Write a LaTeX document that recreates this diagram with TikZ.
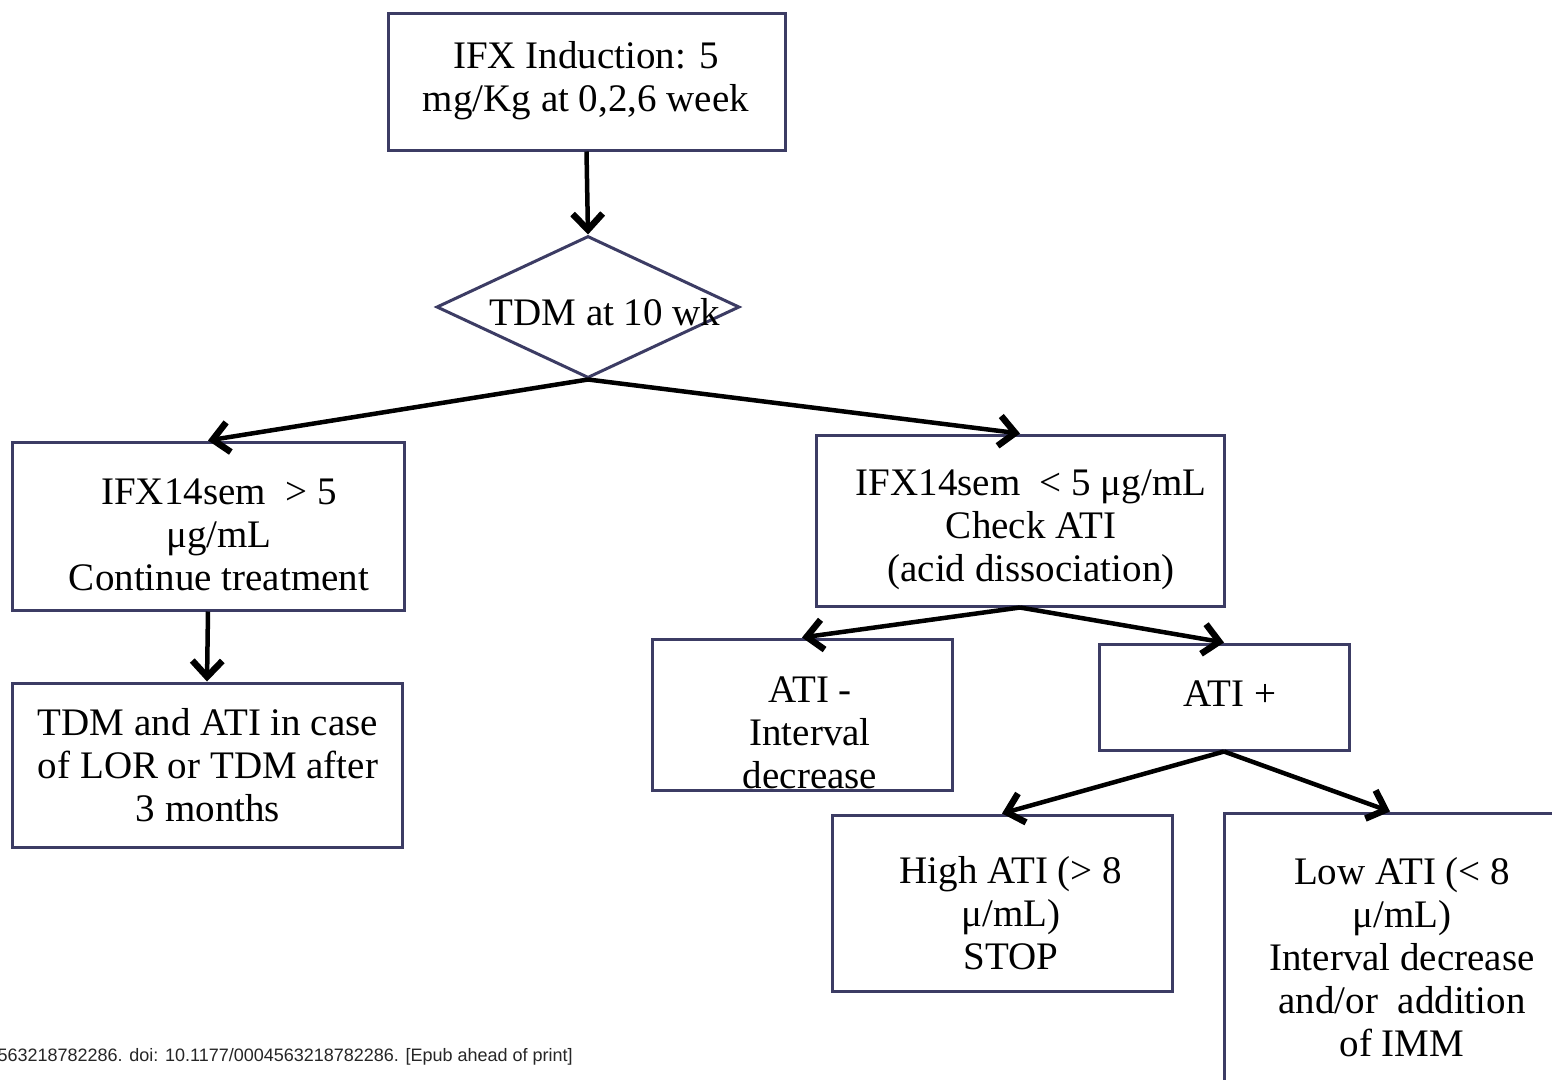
\documentclass[tikz,border=0pt]{standalone}
\usepackage{fontspec}
\setmainfont{Liberation Serif}
\newfontfamily\footfont{Liberation Sans}
\usetikzlibrary{shapes.geometric,arrows.meta}
\definecolor{boxcol}{RGB}{60,60,100}
\newcommand\bodyfont{\fontsize{39}{43}\selectfont}
\begin{document}
\begin{tikzpicture}[x=1pt,y=-1pt,
  box/.style={draw=boxcol,line width=3pt,inner sep=0pt},
  txt/.style={font=\bodyfont,align=center,inner sep=0pt,
    execute at begin node=\strut,execute at end node=\strut},
  arr/.style={line width=4.5pt,-{Straight Barb[length=16pt,width=30pt,line width=6.5pt]}}]
\useasboundingbox (0,0) rectangle (1552,1079);
\fill[white] (0,0) rectangle (1552,1079);
\clip (0,0) rectangle (1552,1079);
% boxes
\node[box,minimum width=397pt,minimum height=137pt] (ind) at (586.5,81.5) {};
\node[box,diamond,minimum width=303pt,minimum height=142pt] (tdm) at (588,307) {};
\node[box,minimum width=392pt,minimum height=168pt] (hi) at (208,526) {};
\node[box,minimum width=390pt,minimum height=164pt] (mon) at (207,765) {};
\node[box,minimum width=408pt,minimum height=171pt] (lo) at (1020,520.5) {};
\node[box,minimum width=300pt,minimum height=151pt] (neg) at (802,714.5) {};
\node[box,minimum width=250pt,minimum height=106pt] (pos) at (1224,697) {};
\node[box,minimum width=340pt,minimum height=176pt] (high) at (1002,903) {};
\node[box,minimum width=360pt,minimum height=300pt] (low) at (1404,963) {};
% texts
\node[txt] (indT) at (586,83) {IFX Induction: 5\\mg/Kg at 0,2,6 week};
\node[txt] (tdmT) at (605,317) {TDM at 10 wk};
\node[txt] (hiT) at (219,541) {IFX14sem\ \ > 5\\μg/mL\\Continue treatment};
\node[txt] (monT) at (208,771) {TDM and ATI in case\\of LOR or TDM after\\3 months};
\node[txt] (loT) at (1031,532) {IFX14sem\ \ < 5 μg/mL\\Check ATI\\(acid dissociation)};
\node[txt] (negT) at (810,739) {ATI -\\Interval\\decrease};
\node[txt] (posT) at (1230,697.5) {ATI +};
\node[txt] (highT) at (1011,919) {High ATI (> 8\\μ/mL)\\STOP};
\node[txt] (lowT) at (1402,963.5) {Low ATI (< 8\\μ/mL)\\Interval decrease\\and/or\ \ addition\\of IMM};
\node[font=\footfont\fontsize{18}{20}\selectfont,text=black!85,anchor=base east,inner sep=0pt] (src) at (573,1061) {563218782286. doi: 10.1177/0004563218782286. [Epub ahead of print]};
% arrows
\draw[arr] (ind.south) -- (tdm.north);
\draw[arr] (tdm.south) -- (hi.north);
\draw[arr] (tdm.south) -- (lo.north);
\draw[arr] (hi.south) -- (mon.north);
\draw[arr] (lo.south) -- (neg.north);
\draw[arr] (lo.south) -- (pos.north);
\draw[arr] (pos.south) -- (high.north);
\draw[arr] (pos.south) -- ([xshift=-14pt]low.north);
\end{tikzpicture}
\end{document}
